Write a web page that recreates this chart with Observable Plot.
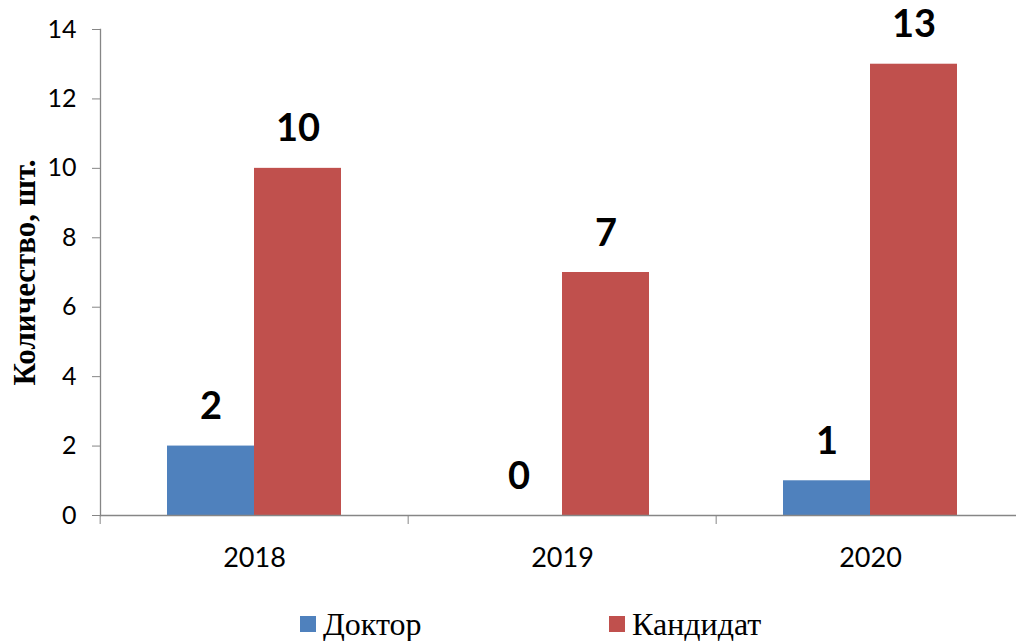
<!DOCTYPE html>
<html><head><meta charset="utf-8">
<script src="https://cdn.jsdelivr.net/npm/d3@7"></script>
<script src="https://cdn.jsdelivr.net/npm/@observablehq/plot@0.6"></script>
<style>
html,body{margin:0;padding:0;background:#fff;overflow:hidden;width:1016px;height:641px;}
#chart svg{display:block;max-width:none !important;}
#chart svg text{font-variant-numeric:tabular-nums;}
#legend{display:flex;margin-left:300px;height:68px;align-items:center;}
#legend .item{display:flex;align-items:center;width:309px;}
#legend .sw{width:16px;height:16px;margin-right:7px;flex:none;}
#legend .lt{font-family:"Liberation Serif","DejaVu Serif",serif;font-size:32px;color:#000;line-height:1;}
</style></head>
<body>
<div id="chart"></div>
<div id="legend"></div>
<script>
const years = ["2018", "2019", "2020"];
const seriesNames = ["Доктор", "Кандидат"];
const doctor = [2, 0, 1];
const candidate = [10, 7, 13];
const colors = ["#4F81BD", "#C0504D"];
const yTicks = [0, 2, 4, 6, 8, 10, 12, 14];

const data = [];
years.forEach((y, i) => {
  data.push({year: y, series: seriesNames[0], value: doctor[i]});
  data.push({year: y, series: seriesNames[1], value: candidate[i]});
});

const W = 1025, ML = 99, MR = 0;
const step = (W - ML - MR) / years.length;

const plot = Plot.plot({
  width: W,
  height: 590,
  marginLeft: ML,
  marginRight: MR,
  marginTop: 29,
  marginBottom: 75,
  style: {fontFamily: "Lato, sans-serif", fontSize: "25px", color: "#000", background: "#fff"},
  fx: {domain: years, padding: 0, axis: null},
  x: {domain: seriesNames, paddingInner: 0, paddingOuter: 0.76, axis: null},
  y: {domain: [0, 14], ticks: yTicks, axis: null},
  color: {domain: seriesNames, range: colors},
  marks: [
    Plot.barY(data, {fx: "year", x: "series", y: "value", fill: "series"}),
    Plot.ruleY([0], {stroke: "#868686", strokeWidth: 1.3}),
    Plot.frame({anchor: "left", facet: "super", stroke: "#868686", strokeWidth: 1.3}),
    Plot.axisY({ticks: yTicks, tickSize: 8, tickPadding: 16, stroke: "#868686", fill: "#000", fontSize: 25,
      label: "Количество, шт.", labelAnchor: "center", labelArrow: "none", labelOffset: 88}),
    Plot.axisFx({anchor: "bottom", tickSize: 0, tickPadding: 32, fill: "#000", label: null}),
    Plot.axisFx({anchor: "bottom", tickSize: 9, text: null, stroke: "#868686", dx: -step / 2, label: null}),
    Plot.text(data, {fx: "year", x: "series", y: "value", text: "value", lineAnchor: "bottom", dy: -27,
      fontSize: 38, fontWeight: "bold", fill: "#000"})
  ]
});
document.getElementById("chart").appendChild(plot);

const svg = d3.select(plot);
svg.selectAll('g[aria-label="y-axis tick label"] text').style("font-size", "25px").style("font-family", "Lato, sans-serif");
svg.selectAll('g[aria-label="fx-axis tick label"] text').style("font-size", "27px").style("font-family", "Lato, sans-serif");
svg.selectAll('g[aria-label="y-axis label"] text')
  .style("font-size", "31px").style("font-weight", "bold").style("font-family", '"Liberation Serif", serif');

const leg = document.getElementById("legend");
seriesNames.forEach((s, i) => {
  const it = document.createElement("div"); it.className = "item";
  const sw = document.createElement("span"); sw.className = "sw"; sw.style.background = colors[i];
  const t = document.createElement("span"); t.className = "lt"; t.textContent = s;
  it.appendChild(sw); it.appendChild(t); leg.appendChild(it);
});
</script>
</body></html>
